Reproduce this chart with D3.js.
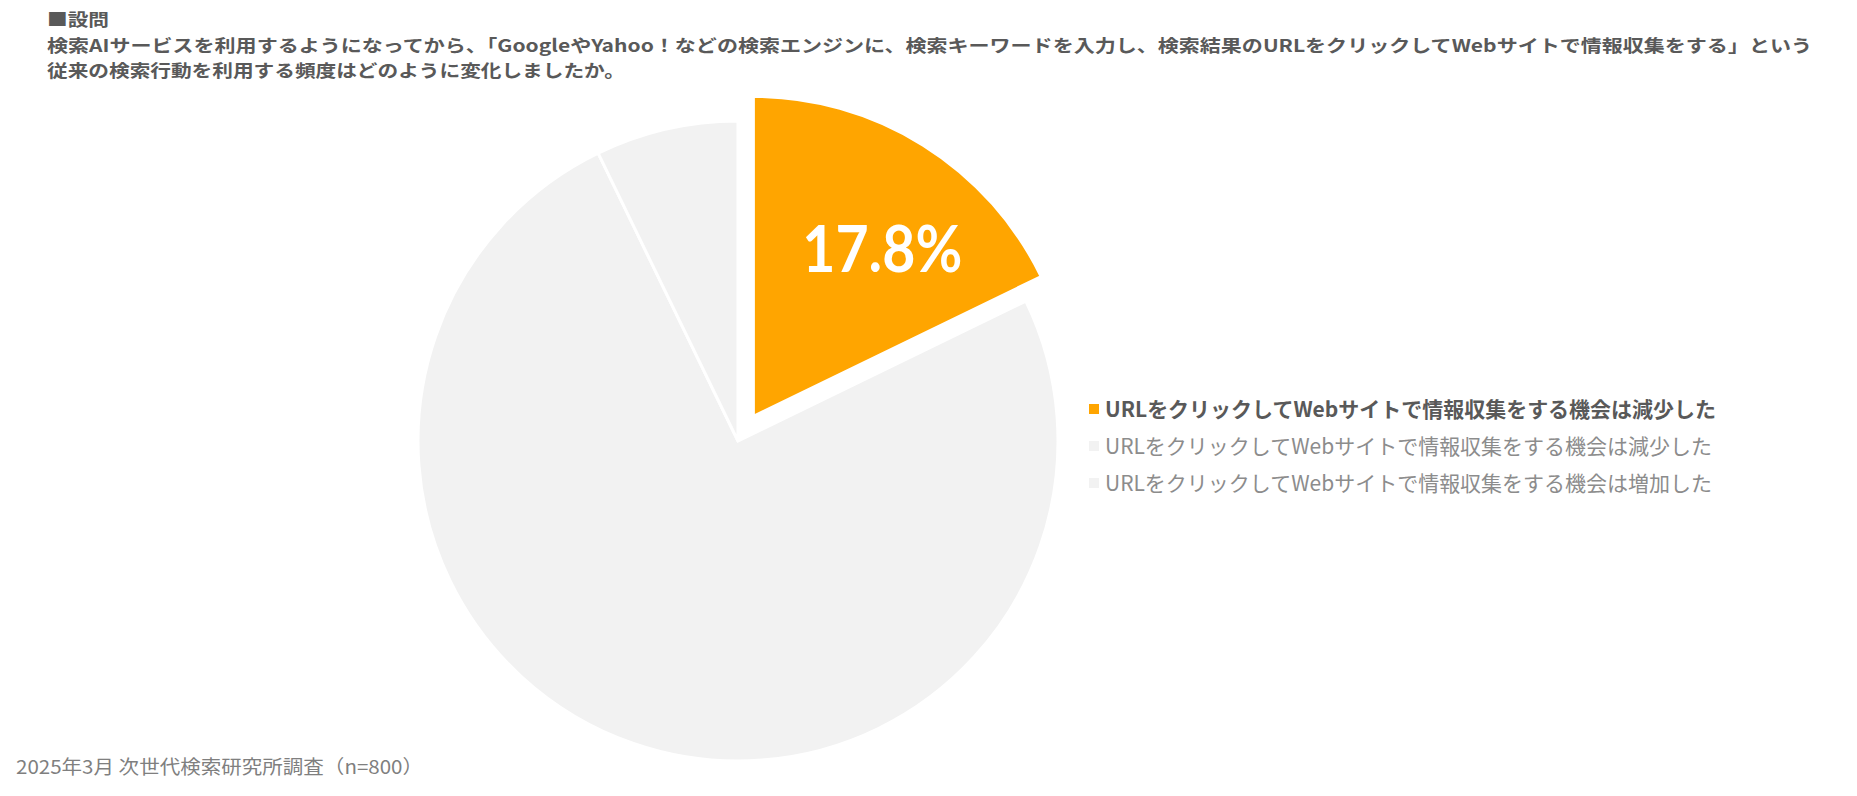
<!DOCTYPE html>
<html><head><meta charset="utf-8">
<script src="https://cdn.jsdelivr.net/npm/d3@7"></script>
<style>html,body{margin:0;padding:0;background:#fff;}svg{display:block;}</style>
</head><body>
<script>
// ---- data ----
const titleLines = [
  "■設問",
  "検索AIサービスを利用するようになってから、「GoogleやYahoo！などの検索エンジンに、検索キーワードを入力し、検索結果のURLをクリックしてWebサイトで情報収集をする」という",
  "従来の検索行動を利用する頻度はどのように変化しましたか。"
];
const categories = [
  "URLをクリックしてWebサイトで情報収集をする機会は減少した",
  "URLをクリックしてWebサイトで情報収集をする機会は減少した",
  "URLをクリックしてWebサイトで情報収集をする機会は増加した"
];
const values = [17.8, 75.0, 7.2];
const sliceColors = ["#FFA500", "#F2F2F2", "#F2F2F2"];
const shownLabels = ["17.8%", null, null];
const footnote = "2025年3月 次世代検索研究所調査（n=800）";

// ---- layout ----
const W = 1857, H = 796;
const svg = d3.select("body").append("svg").attr("width", W).attr("height", H);
const cjk = "'Noto Sans CJK JP', 'Noto Sans', sans-serif";

function fitText(sel, w) { sel.attr("textLength", w).attr("lengthAdjust", "spacingAndGlyphs"); }

// title
const titleY = [26, 51.5, 77];
const titleW = [62, 1765, 578];
titleLines.forEach((t, i) => {
  const tx = svg.append("text").attr("x", 47).attr("y", titleY[i])
    .attr("font-family", cjk).attr("font-weight", "bold").attr("font-size", 17.5)
    .attr("fill", "#595959").text(t);
  fitText(tx, titleW[i]);
});

// pie
const cx = 738, cy = 441, R = 320, explode = 29;
const pie = d3.pie().sort(null).value(d => d)(values);
const arc = d3.arc().innerRadius(0).outerRadius(R);
const g = svg.append("g").attr("transform", `translate(${cx},${cy})`);
g.selectAll("path").data(pie).join("path")
  .attr("d", arc)
  .attr("fill", (d, i) => sliceColors[i])
  .attr("stroke", "#fff").attr("stroke-width", 3).attr("stroke-linejoin", "miter")
  .attr("transform", (d, i) => {
    if (i !== 0) return null;
    const a = (d.startAngle + d.endAngle) / 2;
    return `translate(${Math.sin(a) * explode},${-Math.cos(a) * explode})`;
  });

// data label
const labelArc = d3.arc().innerRadius(0).outerRadius(R * 1.33);
pie.forEach((d, i) => {
  if (!shownLabels[i]) return;
  const a = (d.startAngle + d.endAngle) / 2;
  const c = labelArc.centroid(d);
  const t = g.append("text")
    .attr("x", c[0] + Math.sin(a) * explode + 16)
    .attr("y", c[1] - Math.cos(a) * explode + 36)
    .attr("text-anchor", "middle")
    .attr("font-family", "Lato, 'Noto Sans', sans-serif").attr("font-weight", "bold")
    .attr("font-size", 65).attr("fill", "#fff").text(shownLabels[i]);
  fitText(t, 160);
});

// legend
const legX = 1089, legY0 = 409, legStep = 37;
categories.forEach((c, i) => {
  const y = legY0 + i * legStep;
  svg.append("rect").attr("x", legX).attr("y", y - 5).attr("width", 10).attr("height", 10)
    .attr("fill", sliceColors[i]);
  const t = svg.append("text").attr("x", legX + 16).attr("y", y + 7.5)
    .attr("font-family", cjk).attr("font-size", 21)
    .attr("font-weight", i === 0 ? "bold" : "normal")
    .attr("fill", i === 0 ? "#595959" : "#8C8C8C").text(c);
  fitText(t, i === 0 ? 611 : 607);
});

// footnote
const ft = svg.append("text").attr("x", 16).attr("y", 774)
  .attr("font-family", cjk).attr("font-size", 19).attr("fill", "#7F7F7F").text(footnote);
fitText(ft, 407);
</script>
</body></html>
